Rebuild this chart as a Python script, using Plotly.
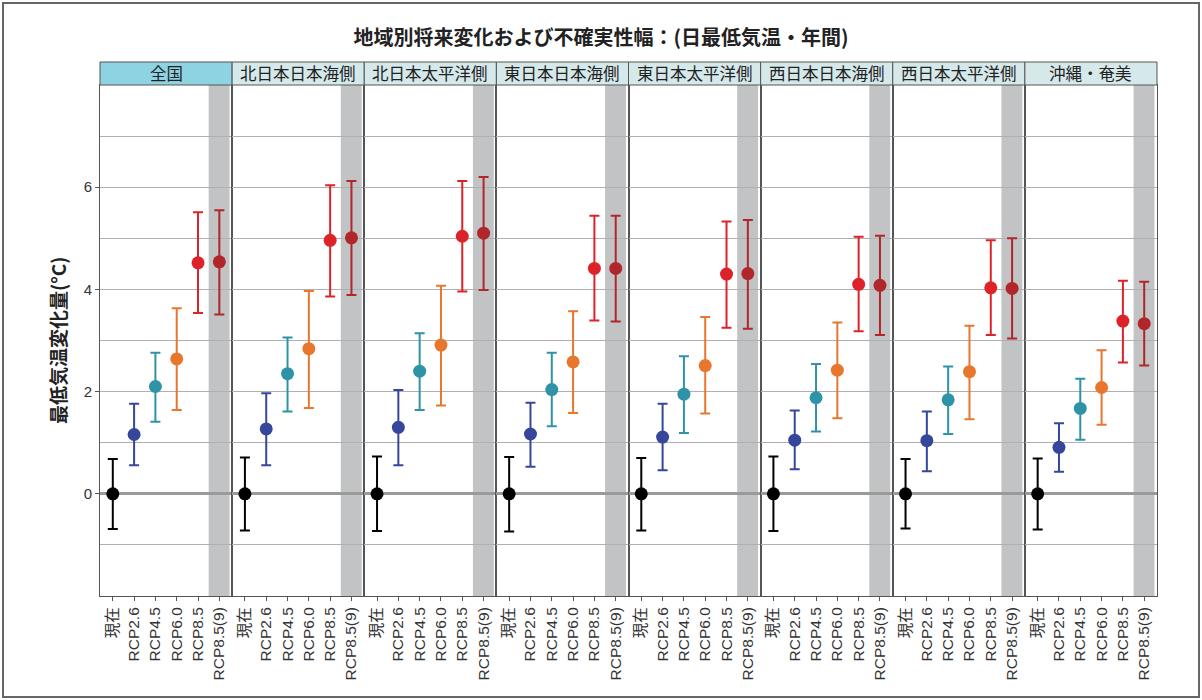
import plotly.graph_objects as go
from plotly.subplots import make_subplots

# ---------------- data ----------------
regions = ["全国", "北日本日本海側", "北日本太平洋側", "東日本日本海側",
           "東日本太平洋側", "西日本日本海側", "西日本太平洋側", "沖縄・奄美"]
categories = ["現在", "RCP2.6", "RCP4.5", "RCP6.0", "RCP8.5", "RCP8.5(9)"]

center = [
    [0.00, 1.16, 2.10, 2.64, 4.52, 4.54],
    [0.00, 1.27, 2.35, 2.84, 4.96, 5.01],
    [0.00, 1.30, 2.40, 2.91, 5.04, 5.10],
    [0.00, 1.17, 2.04, 2.58, 4.41, 4.41],
    [0.00, 1.11, 1.95, 2.51, 4.30, 4.31],
    [0.00, 1.05, 1.88, 2.42, 4.10, 4.08],
    [0.00, 1.04, 1.84, 2.39, 4.03, 4.02],
    [0.00, 0.91, 1.67, 2.08, 3.38, 3.33],
]
upper = [
    [0.68, 1.76, 2.76, 3.63, 5.51, 5.55],
    [0.71, 1.97, 3.06, 3.97, 6.04, 6.12],
    [0.73, 2.03, 3.14, 4.07, 6.12, 6.20],
    [0.72, 1.78, 2.76, 3.57, 5.44, 5.44],
    [0.70, 1.76, 2.69, 3.46, 5.33, 5.36],
    [0.73, 1.63, 2.54, 3.35, 5.03, 5.05],
    [0.68, 1.61, 2.49, 3.29, 4.96, 5.00],
    [0.69, 1.38, 2.25, 2.81, 4.17, 4.15],
]
lower = [
    [-0.69, 0.56, 1.41, 1.64, 3.54, 3.51],
    [-0.72, 0.56, 1.61, 1.68, 3.86, 3.89],
    [-0.73, 0.56, 1.64, 1.73, 3.96, 3.99],
    [-0.74, 0.53, 1.32, 1.58, 3.39, 3.37],
    [-0.72, 0.46, 1.19, 1.57, 3.25, 3.23],
    [-0.73, 0.48, 1.22, 1.48, 3.18, 3.11],
    [-0.68, 0.44, 1.17, 1.46, 3.11, 3.04],
    [-0.70, 0.43, 1.06, 1.35, 2.57, 2.51],
]
colors = ["#000000", "#36469b", "#2e93a6", "#e8762c", "#dd2329", "#b1262a"]
header_colors = ["#8dd3e2"] + ["#d5e9eb"] * 7

title_text = "地域別将来変化および不確実性幅：(日最低気温・年間)"
y_title = "最低気温変化量(°C)"
y_ticks = [0, 2, 4, 6]

# ---------------- figure ----------------
W, H = 1202, 700
L, R, T, B = 100, 45, 85, 104
pw, ph = W - L - R, H - T - B

def px_x(p):
    return (p - L) / pw

def px_y(p):
    return (H - B - p) / ph

FONT = "Liberation Sans, Arial, Noto Sans CJK JP, sans-serif"
JFONT = "Noto Sans CJK JP, sans-serif"

n = len(regions)
fig = make_subplots(rows=1, cols=n, shared_yaxes=True, horizontal_spacing=0)

for i in range(n):
    col = i + 1
    for j, cat in enumerate(categories):
        fig.add_trace(go.Scatter(
            x=[cat], y=[center[i][j]],
            mode="markers",
            marker=dict(color=colors[j], size=13),
            error_y=dict(type="data", symmetric=False,
                         array=[upper[i][j] - center[i][j]],
                         arrayminus=[center[i][j] - lower[i][j]],
                         color=colors[j], thickness=2, width=5),
            showlegend=False, cliponaxis=False,
        ), row=1, col=col)
    xname = "x" if i == 0 else f"x{col}"
    # gray highlight band for RCP8.5(9)
    fig.add_shape(type="rect", xref=xname, yref="y",
                  x0=4.5, x1=5.48, y0=-2, y1=8,
                  fillcolor="#c2c3c5", line=dict(width=0), layer="below")
    # strip header
    fig.add_shape(type="rect", xref=f"{xname} domain", yref="paper",
                  x0=0, x1=1, y0=1, y1=px_y(62),
                  fillcolor=header_colors[i], line=dict(color="#555555", width=1))
    fig.add_annotation(text=regions[i], xref=f"{xname} domain", yref="paper",
                       x=0.5, y=(1 + px_y(62)) / 2, showarrow=False,
                       font=dict(family=JFONT, size=16.5, color="#222222"),
                       xanchor="center", yanchor="middle")
    fig.update_xaxes(type="category", categoryorder="array", categoryarray=categories,
                     range=[-0.6, 5.6], tickangle=-90,
                     tickfont=dict(family=FONT, size=15.5, color="#333333"),
                     showline=True, mirror=True, linecolor="#555555", linewidth=1,
                     ticks="outside", ticklen=4, tickcolor="#555555",
                     showgrid=False, zeroline=False, row=1, col=col)
    fig.update_yaxes(range=[-2, 8], tickvals=y_ticks,
                     showline=True, mirror=True, linecolor="#555555", linewidth=1,
                     showgrid=True, gridcolor="#b0b0b0", gridwidth=1,
                     minor=dict(dtick=1, tick0=0, showgrid=True, gridcolor="#b0b0b0",
                                gridwidth=1, ticks=""),
                     zeroline=True, zerolinecolor="#9a9a9a", zerolinewidth=2.5,
                     ticks="outside" if i == 0 else "", ticklen=4, tickcolor="#555555",
                     showticklabels=(i == 0),
                     tickfont=dict(family=FONT, size=15, color="#333333"),
                     row=1, col=col)

# y-axis title
fig.add_annotation(text=y_title, xref="paper", yref="paper",
                   x=px_x(57), y=px_y(340), textangle=-90, showarrow=False,
                   font=dict(family=JFONT, size=19, color="#222222", weight="bold"),
                   xanchor="center", yanchor="middle")

# outer frame
fig.add_shape(type="rect", xref="paper", yref="paper",
              x0=px_x(3), x1=px_x(1199), y0=px_y(697), y1=px_y(3),
              line=dict(color="#666666", width=2), fillcolor="rgba(0,0,0,0)")

fig.update_layout(
    width=W, height=H,
    margin=dict(l=L, r=R, t=T, b=B),
    paper_bgcolor="white", plot_bgcolor="white",
    title=dict(text=title_text, x=0.5, xanchor="center", y=1 - 38 / H, yanchor="middle",
               font=dict(family=JFONT, size=20, color="#222222", weight="bold")),
    font=dict(family=FONT),
)

fig.write_html("out.html", config={"displayModeBar": False},
               post_script="document.body.style.margin='0px';")
